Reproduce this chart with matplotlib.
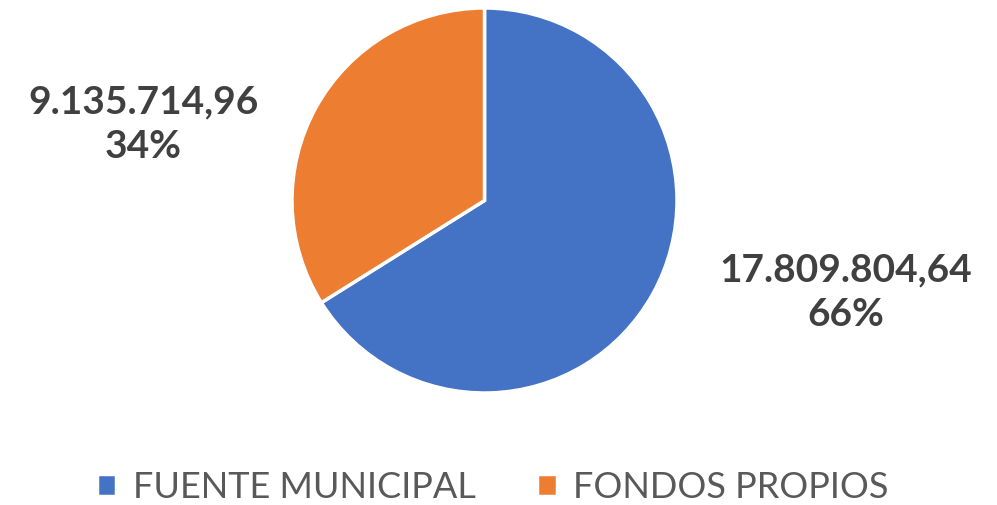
import matplotlib.pyplot as plt

categorias = ["FUENTE MUNICIPAL", "FONDOS PROPIOS"]
valores = [17809804.64, 9135714.96]
etiquetas = ["17.809.804,64\n66%", "9.135.714,96\n34%"]
colores = ["#4472C4", "#ED7D31"]

plt.rcParams['font.family'] = ['Lato', 'DejaVu Sans']

fig = plt.figure(figsize=(9.97, 5.05), dpi=100)
ax = fig.add_axes([292 / 997, 1 - 393 / 505, 385 / 997, 385 / 505])
cunhas, _ = ax.pie(valores, colors=colores, startangle=90, counterclock=False,
                   wedgeprops=dict(edgecolor="white", linewidth=2.5))
ax.set_xlim(-1.0, 1.0)
ax.set_ylim(-1.0, 1.0)
ax.set_aspect("equal")

# rotulos de dados
fig.text(846 / 997, 1 - 292 / 505, etiquetas[0], ha="center", va="center",
         fontsize=28, fontweight="bold", color="#404040", linespacing=1.32)
fig.text(143 / 997, 1 - 124 / 505, etiquetas[1], ha="center", va="center",
         fontsize=28, fontweight="bold", color="#404040", linespacing=1.32)

fig.legend(cunhas, categorias, loc="center", bbox_to_anchor=(0.494, 1 - 487 / 505),
           ncol=2, frameon=False, fontsize=26, labelcolor="#595959",
           handlelength=0.55, handleheight=0.55, handletextpad=0.45, columnspacing=1.7)

plt.savefig("out.png", dpi=100)
